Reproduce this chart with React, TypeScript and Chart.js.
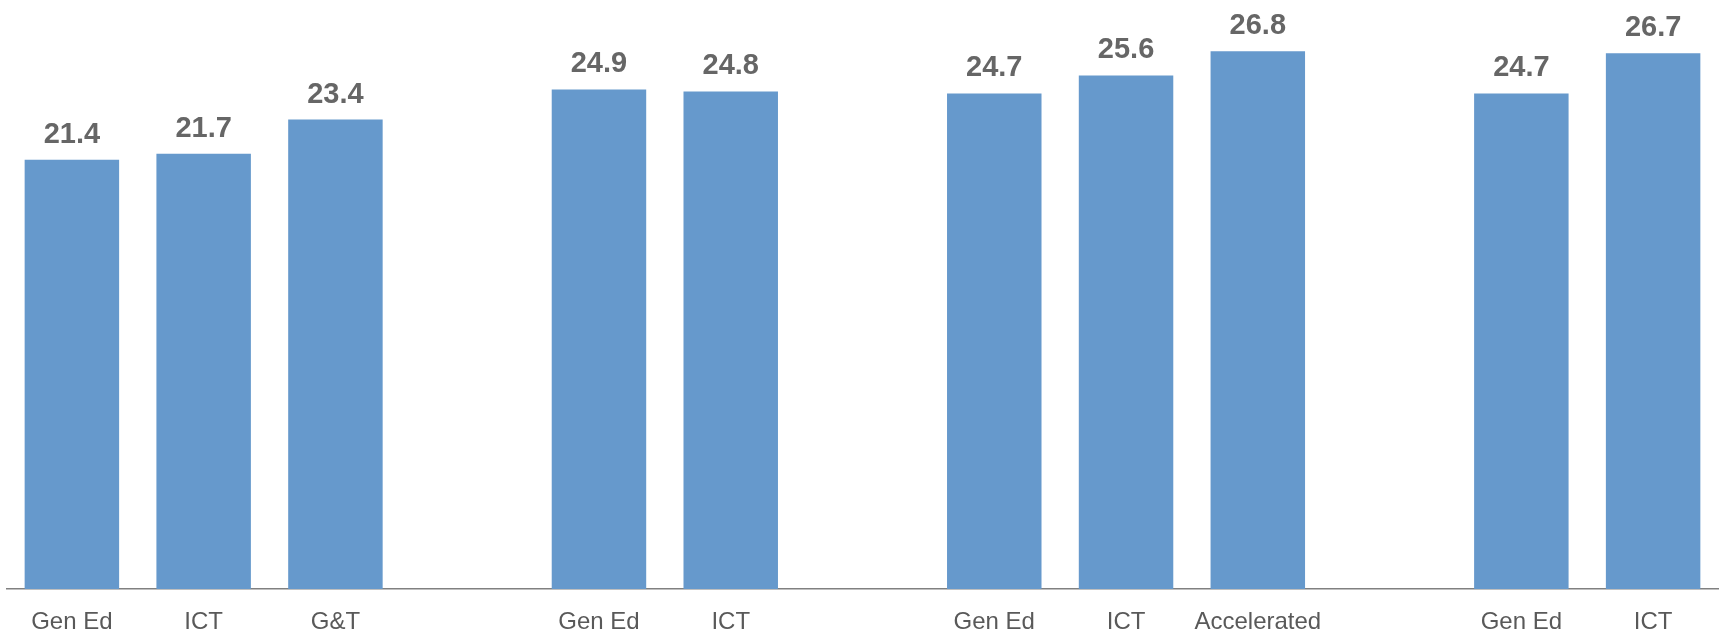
import React, { useEffect, useRef } from "react";
import { Chart, registerables } from "chart.js";

Chart.register(...registerables);

const categories = ["Gen Ed", "ICT", "G&T", "", "Gen Ed", "ICT", "", "Gen Ed", "ICT", "Accelerated", "", "Gen Ed", "ICT"];
const values: (number | null)[] = [21.4, 21.7, 23.4, null, 24.9, 24.8, null, 24.7, 25.6, 26.8, null, 24.7, 26.7];

const labelPlugin = {
  id: "valueLabels",
  afterDatasetsDraw(chart: any) {
    const ctx = chart.ctx;
    const meta = chart.getDatasetMeta(0);
    ctx.save();
    ctx.font = "bold 29px 'Liberation Sans', Arial, sans-serif";
    ctx.fillStyle = "#666666";
    ctx.textAlign = "center";
    ctx.textBaseline = "alphabetic";
    meta.data.forEach((bar: any, i: number) => {
      const v = values[i];
      if (v == null) return;
      ctx.fillText(v.toFixed(1), bar.x, bar.y - 17);
    });
    ctx.restore();
  },
};

export default function App() {
  const ref = useRef<HTMLCanvasElement | null>(null);
  useEffect(() => {
    if (!ref.current) return;
    const chart = new Chart(ref.current, {
      type: "bar",
      data: {
        labels: categories,
        datasets: [
          {
            data: values,
            backgroundColor: "#6699cc",
            barPercentage: 0.717,
            categoryPercentage: 1,
          },
        ],
      },
      options: {
        animation: false,
        responsive: false,
        maintainAspectRatio: false,
        layout: { padding: 0 },
        plugins: { legend: { display: false }, tooltip: { enabled: false } },
        scales: {
          x: {
            grid: { display: false, drawTicks: false },
            border: { display: true, color: "#808080", width: 1.5 },
            afterFit: (scale: any) => {
              scale.height = 42;
            },
            ticks: {
              color: "#595959",
              padding: 19,
              font: { family: "'Liberation Sans', Arial, sans-serif", size: 24 },
              maxRotation: 0,
              autoSkip: false,
            },
          },
          y: { display: false, min: 0, max: 29.36 },
        },
      },
      plugins: [labelPlugin],
    });
    return () => chart.destroy();
  }, []);
  return (
    <div style={{ position: "absolute", left: 6, top: 0, width: 1713, height: 631 }}>
      <canvas ref={ref} width={1713} height={631} style={{ display: "block" }} />
    </div>
  );
}
